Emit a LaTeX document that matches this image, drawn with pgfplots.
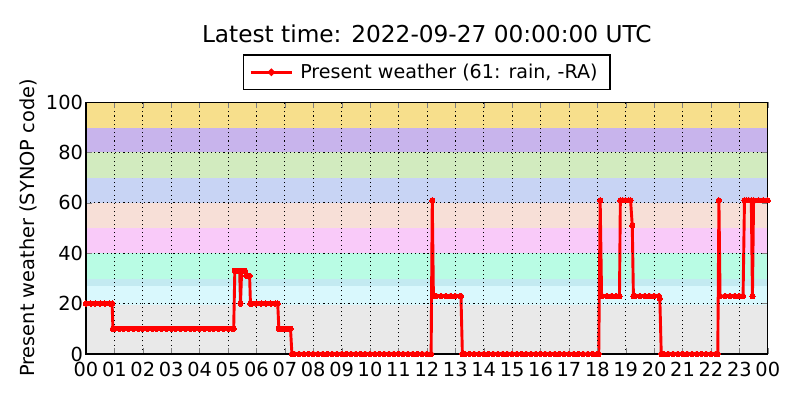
\documentclass[border=0pt]{standalone}
\usepackage{pgfplots}
\pgfplotsset{compat=1.18}
\usepackage{fontspec}
\setmainfont{DejaVu Sans}
\definecolor{bYel}{HTML}{F7DF8C}
\definecolor{bPur}{HTML}{C8B4EC}
\definecolor{bGrn}{HTML}{D2EBBF}
\definecolor{bBlu}{HTML}{C8D4F4}
\definecolor{bPea}{HTML}{F7DFD7}
\definecolor{bPnk}{HTML}{F9CAF9}
\definecolor{bMnt}{HTML}{B9FCE4}
\definecolor{bOvl}{HTML}{C3EAF1}
\definecolor{bCyn}{HTML}{D9F8FD}
\definecolor{bGry}{HTML}{E9E9E9}
\begin{document}
\begin{tikzpicture}
\path[use as bounding box] (-61.9bp,-33.1bp) rectangle (514.2bp,254.9bp);
\begin{axis}[
  at={(0,0)}, anchor=south west,
  scale only axis,
  width=491bp, height=181.4bp,
  xmin=0, xmax=24, ymin=0, ymax=100,
  xtick={0,1,...,24},
  xticklabels={00,01,02,03,04,05,06,07,08,09,10,11,12,13,14,15,16,17,18,19,20,21,22,23,00},
  ytick={0,20,40,60,80,100},
  /pgf/number format/assume math mode=true,
  tick label style={font=\fontsize{14}{16}\selectfont},
  tick align=inside,
  major tick length=4bp,
  xticklabel style={yshift=-6bp, inner xsep=2bp, inner ysep=0bp},
  yticklabel style={inner xsep=2bp, inner ysep=0bp},
  grid=major,
  major grid style={black, line width=0.5bp, dash pattern=on 0.8bp off 2.2bp},
  axis line style={black, line width=0.8bp},
  axis on top,
  ylabel={Present weather (SYNOP code)},
  ylabel style={font=\fontsize{14}{16}\selectfont, yshift=1bp},
  title={Latest time: 2022-09-27 00:00:00 UTC},
  title style={font=\fontsize{16.8}{19}\selectfont, at={(0.5,1)}, anchor=center, yshift=43bp},
  legend style={at={(0.5,1)}, anchor=south, yshift=8.6bp, font=\fontsize{13.8}{16}\selectfont,
    draw=black, line width=0.8bp, inner xsep=4bp, inner ysep=4.5bp,
    /tikz/every even column/.append style={column sep=0bp}},
  legend cell align=left,
  legend image code/.code={
    \draw[red, line width=2bp] (-0.15cm,0cm) -- (0.9cm,0cm);
    \fill[red] (0.375cm,0cm) circle (1.4bp);
  },
  legend style={nodes={inner xsep=5bp}},
]
\fill[bGry] (axis cs:0,0) rectangle (axis cs:24,19.5);
\fill[bCyn] (axis cs:0,19.5) rectangle (axis cs:24,27);
\fill[bOvl] (axis cs:0,27) rectangle (axis cs:24,29.7);
\fill[bMnt] (axis cs:0,29.7) rectangle (axis cs:24,40);
\fill[bPnk] (axis cs:0,40) rectangle (axis cs:24,50);
\fill[bPea] (axis cs:0,50) rectangle (axis cs:24,60);
\fill[bBlu] (axis cs:0,60) rectangle (axis cs:24,70);
\fill[bGrn] (axis cs:0,70) rectangle (axis cs:24,80);
\fill[bPur] (axis cs:0,80) rectangle (axis cs:24,89.8);
\fill[bYel] (axis cs:0,89.8) rectangle (axis cs:24,100);
\addplot[red, line width=2.1bp, mark=*, mark size=1.9bp, mark options={solid, fill=red, draw=red, line width=0pt}] coordinates {
(0,20) (0.167,20) (0.333,20) (0.5,20) (0.667,20) (0.833,20) (0.92,20)
(0.95,10) (1.0,10) (1.167,10) (1.333,10) (1.5,10) (1.667,10) (1.833,10)
(2.0,10) (2.167,10) (2.333,10) (2.5,10) (2.667,10) (2.833,10)
(3.0,10) (3.167,10) (3.333,10) (3.5,10) (3.667,10) (3.833,10)
(4.0,10) (4.167,10) (4.333,10) (4.5,10) (4.667,10) (4.833,10)
(5.0,10) (5.167,10) (5.2,10)
(5.24,33) (5.3,33) (5.36,33) (5.41,33) (5.44,20) (5.48,33) (5.54,33) (5.6,33)
(5.65,31) (5.71,31) (5.76,31) (5.79,20)
(5.833,20) (6.0,20) (6.167,20) (6.333,20) (6.5,20) (6.667,20) (6.75,20)
(6.79,10) (6.9,10) (7.0,10) (7.1,10) (7.2,10)
(7.25,0) (7.333,0) (7.5,0) (7.667,0) (7.833,0)
(8.0,0) (8.167,0) (8.333,0) (8.5,0) (8.667,0) (8.833,0)
(9.0,0) (9.167,0) (9.333,0) (9.5,0) (9.667,0) (9.833,0)
(10.0,0) (10.167,0) (10.333,0) (10.5,0) (10.667,0) (10.833,0)
(11.0,0) (11.167,0) (11.333,0) (11.5,0) (11.667,0) (11.833,0)
(12.0,0) (12.15,0)
(12.19,61)
(12.23,23) (12.333,23) (12.5,23) (12.667,23) (12.833,23) (13.0,23) (13.167,23) (13.2,23)
(13.25,0) (13.333,0) (13.5,0) (13.667,0) (13.833,0)
(14.0,0) (14.167,0) (14.333,0) (14.5,0) (14.667,0) (14.833,0)
(15.0,0) (15.167,0) (15.333,0) (15.5,0) (15.667,0) (15.833,0)
(16.0,0) (16.167,0) (16.333,0) (16.5,0) (16.667,0) (16.833,0)
(17.0,0) (17.167,0) (17.333,0) (17.5,0) (17.667,0) (17.833,0)
(18.0,0) (18.05,0)
(18.1,61)
(18.15,23) (18.333,23) (18.5,23) (18.667,23) (18.78,23)
(18.81,61) (18.9,61) (19.0,61) (19.1,61) (19.17,61)
(19.23,51)
(19.27,23) (19.333,23) (19.5,23) (19.667,23) (19.833,23) (20.0,23) (20.167,23)
(20.2,22)
(20.25,0) (20.333,0) (20.5,0) (20.667,0) (20.833,0)
(21.0,0) (21.167,0) (21.333,0) (21.5,0) (21.667,0) (21.833,0)
(22.0,0) (22.167,0) (22.24,0)
(22.28,61)
(22.32,23) (22.5,23) (22.667,23) (22.833,23) (23.0,23) (23.13,23)
(23.18,61) (23.25,61) (23.333,61) (23.42,61)
(23.46,23)
(23.5,61) (23.667,61) (23.833,61) (24.0,61)
};
\addlegendentry{Present weather (61: rain, -RA)}
\end{axis}
\end{tikzpicture}
\end{document}
